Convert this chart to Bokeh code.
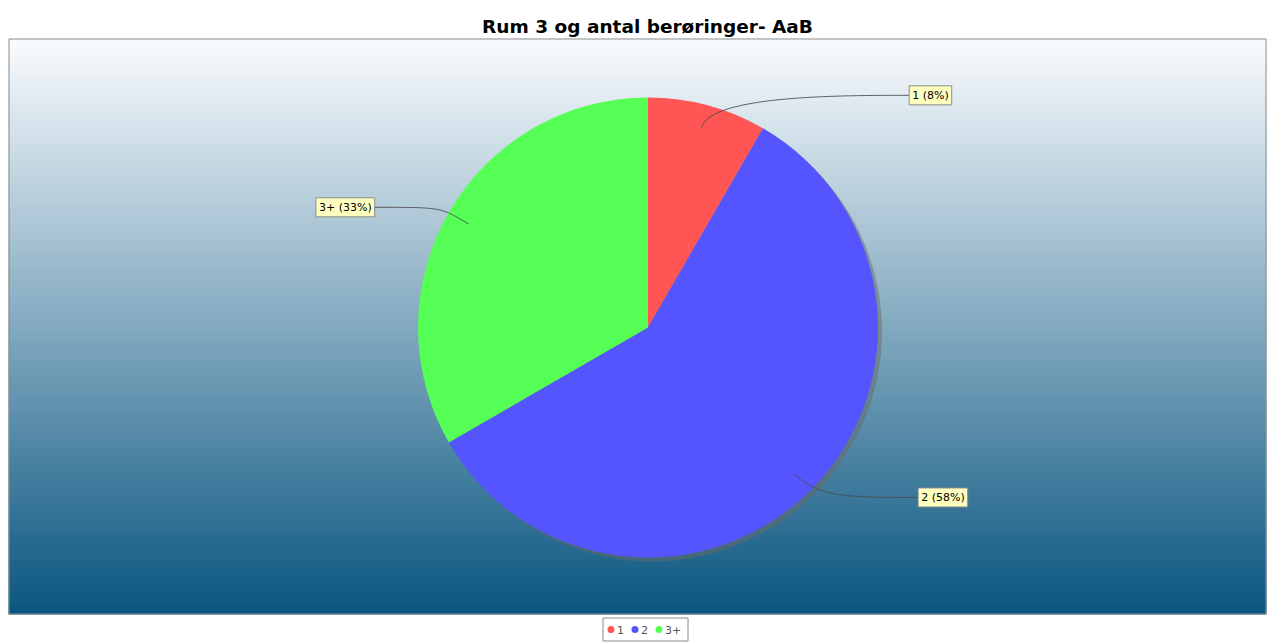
import numpy as np
from bokeh.plotting import figure
from bokeh.models import Range1d, ColumnDataSource
from bokeh.core.properties import value
from bokeh.embed import file_html
from bokeh.resources import INLINE

# ---------------- data ----------------
chart_title = "Rum 3 og antal berøringer- AaB"
categories = ["1", "2", "3+"]
counts = [1, 7, 4]
colors = ["#ff5555", "#5555ff", "#55ff55"]

# ---------------- layout ----------------
W, H = 1274, 642
SY = 642  # data y = SY - screen y ; data x = screen x
p = figure(width=W, height=H, x_range=Range1d(0, W), y_range=Range1d(0, H),
           output_backend="svg", toolbar_location=None,
           x_axis_type=None, y_axis_type=None, min_border=0)
p.outline_line_color = None
p.background_fill_color = "white"
p.border_fill_color = "white"

# plot area with vertical gradient
L, R = 8, 1266
T, B = SY - 38, SY - 614
n = 192
edges = np.linspace(B, T, n + 1)
top_c = np.array([250, 252, 254])
bot_c = np.array([10, 86, 128])
grad_cols = []
for i in range(n):
    mid = 0.5 * (edges[i] + edges[i + 1])
    t = (T - mid) / (T - B)
    c = top_c + (bot_c - top_c) * t
    grad_cols.append("#%02x%02x%02x" % tuple(int(round(v)) for v in c))
p.quad(left=L, right=R, bottom=edges[:-1], top=edges[1:] + 0.6,
       fill_color=grad_cols, line_color=None)
p.quad(left=L + 0.5, right=R - 0.5, bottom=B + 0.5, top=T - 0.5,
       fill_color=None, line_color="#8c8c8c", line_width=1)

# ---------------- pie ----------------
cx, cy, r = 647.5, SY - 327, 230.0
vals = np.array(counts, dtype=float)
frac = vals / vals.sum()
cum_after = np.cumsum(frac)
cum_before = cum_after - frac
ang_end = np.pi / 2 - 2 * np.pi * cum_before
ang_start = np.pi / 2 - 2 * np.pi * cum_after
mid = 0.5 * (ang_start + ang_end)

# shadow
p.circle(x=[cx + 4], y=[cy - 4], radius=r, fill_color="#6a6a6a", fill_alpha=0.5,
         line_color=None)

src = ColumnDataSource(dict(start=ang_start, end=ang_end, color=colors, cat=categories))
p.wedge(x=cx, y=cy, radius=r, start_angle="start", end_angle="end",
        direction="anticlock", fill_color="color", line_color=None, source=src)

# ---------------- labels with leader lines ----------------
labels = ["%s (%d%%)" % (c, round(100 * f)) for c, f in zip(categories, frac)]
cosm, sinm = np.cos(mid), np.sin(mid)
side = np.where(cosm >= 0, 1.0, -1.0)
p0x = cx + 0.9 * r * cosm
p0y = cy + 0.9 * r * sinm
c1x = cx + 1.045 * r * cosm
c1y = cy + 1.045 * r * sinm
ly = cy + 1.045 * r * sinm
lx = cx + side * (256 + 20 * np.abs(cosm))
c2x = lx - side * 70
p.bezier(x0=p0x, y0=p0y, x1=lx, y1=ly, cx0=c1x, cy0=c1y, cx1=c2x, cy1=ly,
         line_color="#4a4a4a", line_width=1, line_alpha=0.85)

pad = 0
for s, al in ((1.0, "left"), (-1.0, "right")):
    m = side == s
    if not m.any():
        continue
    p.text(x=list(lx[m] + s * pad), y=list(ly[m]), text=[l for l, k in zip(labels, m) if k],
           text_align=al, text_baseline="middle", text_font=value("DejaVu Sans"),
           text_font_size="11px", text_color="black",
           background_fill_color="#ffffc0", border_line_color="#8c8c8c",
           padding=3)

# ---------------- title ----------------
p.text(x=[647], y=[SY - 26], text=[chart_title], text_align="center",
       text_baseline="middle", text_font=value("DejaVu Sans"),
       text_font_style="bold", text_font_size="18.5px", text_color="black")

# ---------------- legend ----------------
char_w = 7
item_w = [8 + 3 + char_w * len(c) + 6 for c in categories]
total = sum(item_w) + 6
lx0 = 645 - total / 2
leg_y = SY - 629
p.quad(left=lx0, right=lx0 + total, bottom=leg_y - 11.5, top=leg_y + 11.5,
       fill_color="white", line_color="#8c8c8c", line_width=1)
xs_dot, xs_txt = [], []
x = lx0 + 4
for w in item_w:
    xs_dot.append(x + 4)
    xs_txt.append(x + 10)
    x += w
p.scatter(x=xs_dot, y=[leg_y] * len(categories), size=7, marker="circle",
          fill_color=colors, line_color=None)
p.text(x=xs_txt, y=[leg_y] * len(categories), text=categories, text_align="left",
       text_baseline="middle", text_font=value("DejaVu Sans"), text_font_size="11px",
       text_color="#555555")

open("out.html", "w").write(file_html(p, INLINE))
